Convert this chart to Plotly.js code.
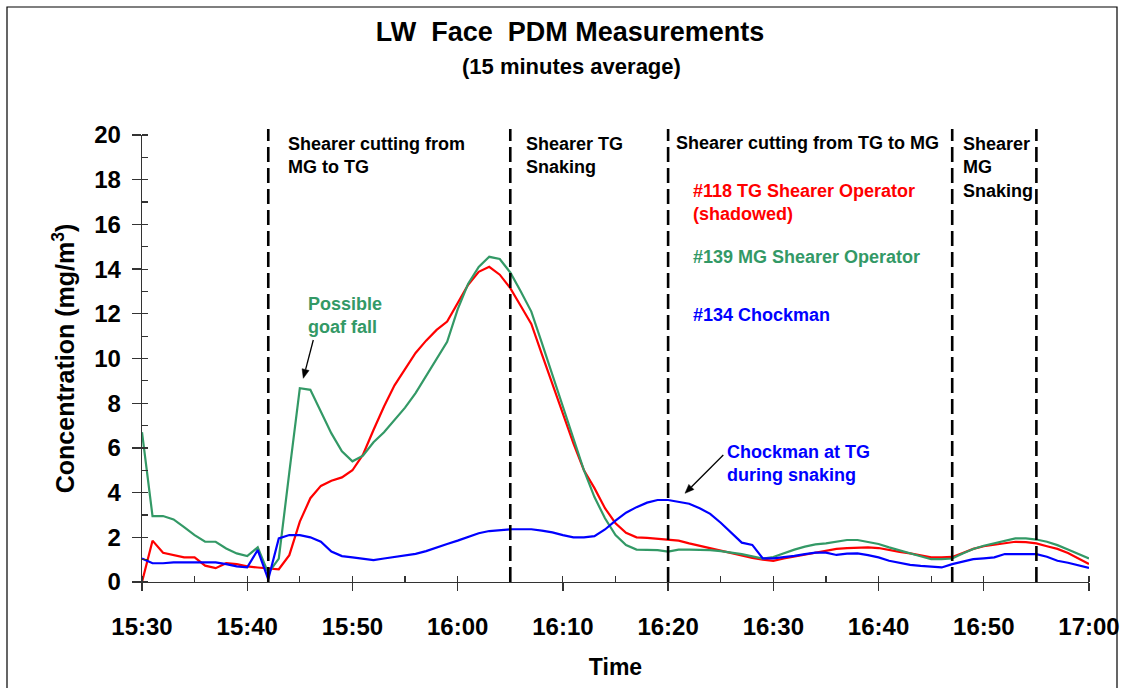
<!DOCTYPE html>
<html>
<head>
<meta charset="utf-8">
<script src="https://cdn.plot.ly/plotly-3.0.1.min.js"></script>
<style>html,body{margin:0;padding:0;background:#fff;}#chart{width:1123px;height:688px;}</style>
</head>
<body>
<div id="chart"></div>
<script>
const times = [
"15:30","15:31","15:32","15:33","15:34","15:35","15:36","15:37","15:38","15:39",
"15:40","15:41","15:42","15:43","15:44","15:45","15:46","15:47","15:48","15:49",
"15:50","15:51","15:52","15:53","15:54","15:55","15:56","15:57","15:58","15:59",
"16:00","16:01","16:02","16:03","16:04","16:05","16:06","16:07","16:08","16:09",
"16:10","16:11","16:12","16:13","16:14","16:15","16:16","16:17","16:18","16:19",
"16:20","16:21","16:22","16:23","16:24","16:25","16:26","16:27","16:28","16:29",
"16:30","16:31","16:32","16:33","16:34","16:35","16:36","16:37","16:38","16:39",
"16:40","16:41","16:42","16:43","16:44","16:45","16:46","16:47","16:48","16:49",
"16:50","16:51","16:52","16:53","16:54","16:55","16:56","16:57","16:58","16:59",
"17:00"];

const tgShearer118 = [
0,1.85,1.31,1.2,1.1,1.1,0.73,0.62,0.84,0.8,
0.7,0.65,0.62,0.57,1.2,2.7,3.75,4.3,4.53,4.68,
5.0,5.7,6.8,7.85,8.8,9.55,10.25,10.8,11.28,11.65,
12.5,13.3,13.88,14.1,13.75,13.15,12.35,11.55,10.2,8.85,
7.5,6.2,5.0,4.2,3.3,2.63,2.2,2.0,1.97,1.93,
1.9,1.85,1.73,1.62,1.5,1.4,1.28,1.18,1.08,1.0,
0.95,1.05,1.13,1.22,1.3,1.4,1.48,1.52,1.55,1.55,
1.52,1.42,1.35,1.28,1.2,1.1,1.1,1.12,1.3,1.48,
1.6,1.66,1.73,1.8,1.78,1.73,1.6,1.48,1.3,1.05,
0.8];

const mgShearer139 = [
6.7,2.95,2.95,2.8,2.45,2.1,1.8,1.8,1.5,1.28,
1.16,1.55,0.4,1.05,4.9,8.67,8.6,7.65,6.65,5.85,
5.4,5.65,6.25,6.7,7.25,7.8,8.45,9.2,10.0,10.75,
12.2,13.35,14.1,14.55,14.45,13.85,13.0,12.1,10.7,9.3,
7.85,6.4,5.0,3.8,2.85,2.1,1.65,1.45,1.43,1.43,
1.36,1.45,1.45,1.45,1.43,1.38,1.32,1.25,1.15,1.05,
1.12,1.3,1.45,1.58,1.68,1.73,1.82,1.88,1.88,1.8,
1.7,1.55,1.42,1.3,1.15,1.02,1.02,1.05,1.28,1.48,
1.62,1.72,1.85,1.95,1.95,1.9,1.8,1.65,1.45,1.25,
1.05];

const chockman134 = [
1.05,0.84,0.84,0.88,0.88,0.88,0.88,0.88,0.8,0.7,
0.66,1.43,0.12,1.95,2.1,2.1,2.0,1.8,1.36,1.16,
1.1,1.05,0.98,1.05,1.12,1.18,1.26,1.38,1.55,1.7,
1.85,2.0,2.18,2.28,2.33,2.36,2.36,2.36,2.3,2.22,
2.1,2.0,2.0,2.05,2.35,2.75,3.1,3.35,3.55,3.67,
3.67,3.6,3.5,3.3,3.05,2.65,2.2,1.76,1.66,1.06,
1.06,1.1,1.17,1.25,1.31,1.31,1.21,1.27,1.28,1.2,
1.1,0.95,0.85,0.77,0.72,0.68,0.65,0.8,0.92,1.02,
1.06,1.1,1.25,1.25,1.25,1.25,1.13,0.95,0.86,0.75,
0.63];

const phaseBoundaries = ["15:42","16:05","16:20","16:47","16:55"];
const xTickLabels = ["15:30","15:40","15:50","16:00","16:10","16:20","16:30","16:40","16:50","17:00"];

const day = "2000-01-01 ";
const xs = times.map(t => day + t);
const FONT = "Arial, 'Liberation Sans', sans-serif";
const RED = "#FF0000", GREEN = "#339966", BLUE = "#0000FF";

const traces = [
  {x: xs, y: tgShearer118, type: "scatter", mode: "lines", name: "#118 TG Shearer Operator", line: {color: RED, width: 2.2}},
  {x: xs, y: mgShearer139, type: "scatter", mode: "lines", name: "#139 MG Shearer Operator", line: {color: GREEN, width: 2.2}},
  {x: xs, y: chockman134, type: "scatter", mode: "lines", name: "#134 Chockman", line: {color: BLUE, width: 2.2}}
];

// plot area: left 142, right 1089, top 135, bottom 582
const L = 142, R = 1089, T = 135, B = 582;
const px = v => (v - L) / (R - L);
const py = v => (B - v) / (B - T);

const shapes = phaseBoundaries.map(t => ({
  type: "line", xref: "x", yref: "paper",
  x0: day + t, x1: day + t, y0: 0, y1: py(129),
  line: {color: "#000", width: 2.6, dash: "15px,6px"}
}));
shapes.push({
  type: "rect", xref: "paper", yref: "paper",
  x0: px(7), x1: px(1117), y0: py(720), y1: py(7),
  line: {color: "#000", width: 1.2}, fillcolor: "rgba(0,0,0,0)", layer: "below"
});

// pointer arrows for the notes (shaft + head)
function arrow(x0, y0, x1, y1) {
  const dx = x1 - x0, dy = y1 - y0, len = Math.hypot(dx, dy);
  const ux = dx / len, uy = dy / len;
  const bx = x1 - 9 * ux, by = y1 - 9 * uy;
  const nx = -uy * 3.6, ny = ux * 3.6;
  shapes.push({type: "line", xref: "paper", yref: "paper",
    x0: px(x0), y0: py(y0), x1: px(bx), y1: py(by), line: {color: "#000", width: 1.3}});
  shapes.push({type: "path", xref: "paper", yref: "paper",
    path: "M " + px(x1) + "," + py(y1) + " L " + px(bx + nx) + "," + py(by + ny) +
          " L " + px(bx - nx) + "," + py(by - ny) + " Z",
    fillcolor: "#000", line: {color: "#000", width: 0.5}});
}
arrow(313.3, 340, 303.3, 378.3);
arrow(723.3, 455, 685, 493.3);

function txt(text, x, y, color, size) {
  return {text: text, xref: "paper", yref: "paper", x: px(x), y: py(y),
    xanchor: "left", yanchor: "middle", align: "left", showarrow: false,
    font: {family: FONT, size: size || 18, color: color, weight: "bold"}};
}

const annotations = [
  {text: "(15 minutes average)", xref: "paper", yref: "paper", x: px(571), y: py(67),
   xanchor: "center", yanchor: "middle", showarrow: false,
   font: {family: FONT, size: 22, color: "#000", weight: "bold"}},
  txt("Shearer cutting from<br>MG to TG", 286, 155, "#000"),
  txt("Shearer TG<br>Snaking", 524, 155, "#000"),
  txt("Shearer cutting from TG to MG", 674, 143, "#000"),
  txt("Shearer<br>MG<br>Snaking", 961, 167, "#000"),
  txt("#118 TG Shearer Operator<br>(shadowed)", 691, 202.5, RED),
  txt("#139 MG Shearer Operator", 691, 257, GREEN),
  txt("#134 Chockman", 691, 315, BLUE),
  txt("Possible<br>goaf fall", 306, 315.5, GREEN),
  txt("Chockman at TG<br>during snaking", 725, 463.5, BLUE)
];

const layout = {
  width: 1123, height: 688,
  margin: {l: L, r: 1123 - R, t: T, b: 688 - B},
  paper_bgcolor: "#fff", plot_bgcolor: "#fff",
  showlegend: false,
  font: {family: FONT, color: "#000"},
  title: {text: "LW&nbsp; Face&nbsp; PDM Measurements", x: 570 / 1123, xanchor: "center", xref: "container",
          y: 1 - 32 / 688, yanchor: "middle", yref: "container",
          font: {family: FONT, size: 27, color: "#000", weight: "bold"}},
  xaxis: {
    type: "date",
    range: [day + xTickLabels[0], day + xTickLabels[xTickLabels.length - 1]],
    tickvals: xTickLabels.map(t => day + t), ticktext: xTickLabels,
    showgrid: false, zeroline: false,
    showline: true, linecolor: "#333", linewidth: 1.3,
    ticks: "outside", ticklen: 8, tickwidth: 1.3, tickcolor: "#333",
    ticklabelstandoff: 15,
    minor: {dtick: 300000, ticks: "inside", ticklen: 6, tickwidth: 1.2, tickcolor: "#333", showgrid: false},
    tickfont: {family: FONT, size: 24, color: "#000", weight: "bold"},
    title: {text: "Time", standoff: 19, font: {family: FONT, size: 23, color: "#000", weight: "bold"}}
  },
  yaxis: {
    range: [0, 20], tickvals: [0,2,4,6,8,10,12,14,16,18,20],
    showgrid: false, zeroline: false,
    showline: true, linecolor: "#333", linewidth: 1.3,
    ticks: "outside", ticklen: 9, tickwidth: 1.3, tickcolor: "#333",
    ticklabelstandoff: 6,
    minor: {dtick: 1, ticks: "inside", ticklen: 6, tickwidth: 1.2, tickcolor: "#333", showgrid: false},
    tickfont: {family: FONT, size: 24, color: "#000", weight: "bold"},
    title: {text: "Concentration (mg/m<sup>3</sup>)", standoff: 12, font: {family: FONT, size: 25, color: "#000", weight: "bold"}}
  },
  shapes: shapes,
  annotations: annotations
};

Plotly.newPlot("chart", traces, layout, {displayModeBar: false, staticPlot: true});
</script>
</body>
</html>
